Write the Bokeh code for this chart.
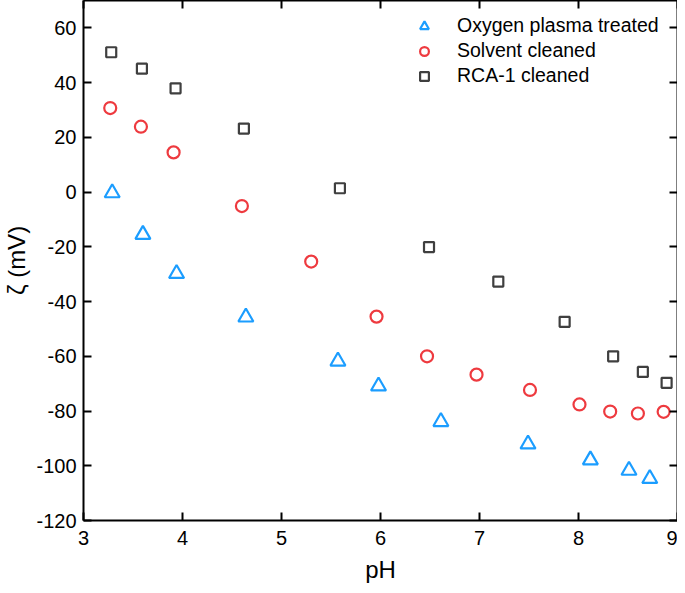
from bokeh.plotting import figure
from bokeh.models import LinearAxis, Range1d, Legend, LegendItem, FixedTicker, CustomJSTickFormatter
from bokeh.embed import file_html
from bokeh.resources import INLINE

# Data
ph_oxygen = [3.29, 3.60, 3.94, 4.64, 5.57, 5.98, 6.61, 7.49, 8.12, 8.51, 8.72]
zeta_oxygen = [-0.3, -15.5, -29.8, -45.7, -61.8, -70.9, -83.9, -92.1, -97.9, -101.7, -104.7]

ph_solvent = [3.27, 3.58, 3.91, 4.60, 5.30, 5.96, 6.47, 6.97, 7.51, 8.01, 8.32, 8.60, 8.86]
zeta_solvent = [30.7, 23.9, 14.5, -5.1, -25.4, -45.5, -60.0, -66.7, -72.3, -77.6, -80.2, -80.9, -80.3]

ph_rca = [3.28, 3.59, 3.93, 4.62, 5.59, 6.49, 7.19, 7.86, 8.35, 8.65, 8.89]
zeta_rca = [51.1, 45.1, 37.9, 23.2, 1.4, -20.1, -32.7, -47.4, -60.0, -65.7, -69.7]

labels = ["Oxygen plasma treated", "Solvent cleaned", "RCA-1 cleaned"]
x_ticks = [3, 4, 5, 6, 7, 8, 9]
y_ticks = [-120, -100, -80, -60, -40, -20, 0, 20, 40, 60]

FONT = "Liberation Sans"

p = figure(width=677, height=585, output_backend="svg", toolbar_location=None,
           x_range=Range1d(3, 9), y_range=Range1d(-120, 70),
           min_border_left=76, min_border_right=0, min_border_top=0, min_border_bottom=0)
p.outline_line_color = None
p.grid.visible = False
p.background_fill_color = "white"

def style_axis(ax, show_labels):
    ax.axis_line_width = 2
    ax.axis_line_color = "black"
    ax.major_tick_in = 8
    ax.major_tick_out = 0
    ax.minor_tick_in = 5
    ax.minor_tick_out = 0
    ax.major_tick_line_width = 2
    ax.minor_tick_line_width = 2
    ax.major_tick_line_color = "black"
    ax.minor_tick_line_color = "black"
    if show_labels:
        ax.major_label_text_font = FONT
        ax.major_label_text_font_size = "20px"
        ax.major_label_text_color = "black"
        ax.axis_label_text_font = FONT
        ax.axis_label_text_font_size = "24px"
        ax.axis_label_text_font_style = "normal"
        ax.axis_label_text_color = "black"
    else:
        ax.formatter = CustomJSTickFormatter(code="return '';")
        ax.major_label_text_font_size = "1px"
        ax.major_label_standoff = 0
        ax.axis_label_standoff = 0

p.xaxis.ticker = FixedTicker(ticks=x_ticks, num_minor_ticks=2)
p.yaxis.ticker = FixedTicker(ticks=y_ticks, num_minor_ticks=2)
style_axis(p.xaxis[0], True)
style_axis(p.yaxis[0], True)
p.yaxis.major_label_overrides = {t: str(t) for t in y_ticks}
p.xaxis.axis_label = "pH"
p.yaxis.axis_label = "ζ (mV)"
p.xaxis.major_label_standoff = 10
p.xaxis.axis_label_standoff = 8
p.yaxis.major_label_standoff = 7
p.yaxis.axis_label_standoff = 3

top = LinearAxis(ticker=FixedTicker(ticks=x_ticks, num_minor_ticks=2))
right = LinearAxis(ticker=FixedTicker(ticks=y_ticks, num_minor_ticks=2))
style_axis(top, False)
style_axis(right, False)
p.add_layout(top, "above")
p.add_layout(right, "right")

r1 = p.scatter(ph_oxygen, zeta_oxygen, marker="triangle", size=15,
               fill_color=None, line_color="#1B9DFF", line_width=2.2)
r2 = p.scatter(ph_solvent, zeta_solvent, marker="circle", size=12,
               fill_color=None, line_color="#EE3A3F", line_width=2.2)
r3 = p.scatter(ph_rca, zeta_rca, marker="square", size=10,
               fill_color=None, line_color="#3F3F3F", line_width=2.2)

legend = Legend(items=[LegendItem(label=labels[0], renderers=[r1]),
                       LegendItem(label=labels[1], renderers=[r2]),
                       LegendItem(label=labels[2], renderers=[r3])],
                location="top_right")
legend.border_line_color = None
legend.background_fill_alpha = 0
legend.label_text_font = FONT
legend.label_text_font_size = "19.5px"
legend.label_text_color = "black"
legend.glyph_width = 24
legend.glyph_height = 22
legend.label_standoff = 21
legend.label_width = 206
legend.spacing = 2
legend.padding = 11
legend.margin = 14
legend.label_height = 22
p.add_layout(legend)

open("out.html", "w").write(file_html(p, INLINE))
